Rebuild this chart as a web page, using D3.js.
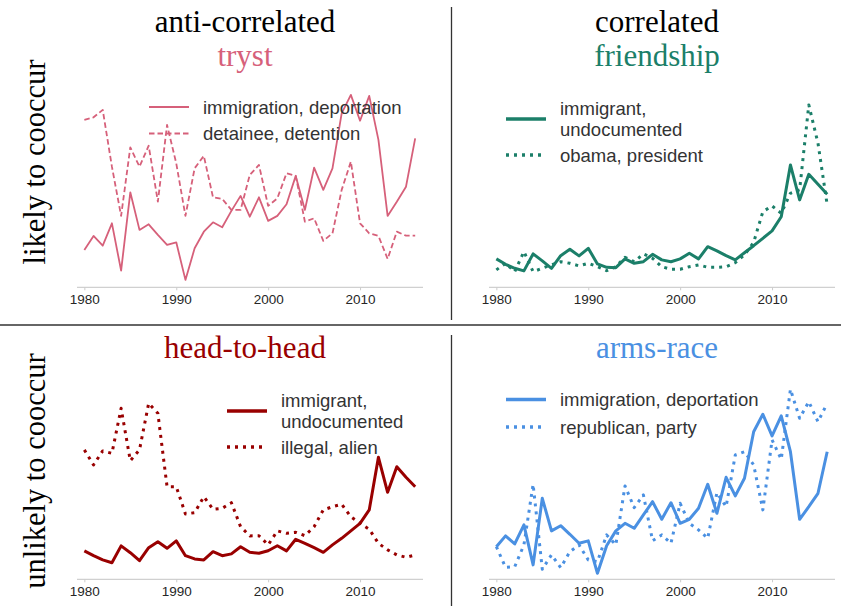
<!DOCTYPE html>
<html>
<head>
<meta charset="utf-8">
<script src="https://cdn.jsdelivr.net/npm/d3@7"></script>
<style>
  html, body { margin: 0; padding: 0; background: #fff; }
  svg { display: block; }
</style>
</head>
<body>
<svg id="chart" width="841" height="608"></svg>
<script>
// ---------------- DATA ----------------
const years = [1980,1981,1982,1983,1984,1985,1986,1987,1988,1989,1990,1991,1992,1993,1994,1995,1996,1997,1998,1999,
               2000,2001,2002,2003,2004,2005,2006,2007,2008,2009,2010,2011,2012,2013,2014,2015,2016];
const xTicks = [1980, 1990, 2000, 2010];

const rowLabels = ["likely to cooccur", "unlikely to cooccur"];
const colLabels = ["anti-correlated", "correlated"];
const panelTitles = ["tryst", "friendship", "head-to-head", "arms-race"];

// tryst
const trystImmigrationDeportation = [18.7,25.7,20.8,32,8.3,47.5,28.7,31.5,26.2,21.2,22.5,3.7,19.5,27.8,32.5,30,38.2,45.7,35.3,45,
  33.2,35.7,41.5,55.7,38.7,59.8,48.7,59.5,87,96.2,83.3,95.7,73.7,35.7,42.8,50.3,74.5];
const trystDetaineeDetention = [83.7,85,88.7,60.3,35.7,70,60.3,70.8,42.8,81.2,62,35.7,59.5,65.7,45,44.2,38.7,38.7,56.2,61.2,
  40.7,44.5,57,55.7,32.8,34.5,23.2,27,48.7,62.8,32,27,25.7,14.2,27.8,25.8,25.8];
// friendship
const friendImmigrantUndocumented = [14.2,11.5,9.5,8.2,16.7,13.2,9.5,15.8,19,15.7,19.5,11.7,10,9.8,14.2,12,12.8,16.5,13.7,12.8,
  14.2,17,14.2,20.3,18.2,15.8,13.7,17.3,20.8,24.5,28.2,35.3,61.2,43.7,56.5,51.5,46.5];
const friendObamaPresident = [8.7,12,7.8,17.8,7.8,9.5,11.2,12.8,12,10.7,12,10.3,8.3,10.3,15,12.8,16.7,14.5,10.3,9,
  9,10.3,11.2,10,10,10.3,12.3,16.2,22.5,37.8,40.7,37,47,48.7,91.2,72,41.2];
// head-to-head
const h2hImmigrantUndocumented = [14.2,11.8,9.7,8.3,16.7,13.3,9.3,15.8,18.8,15.5,19.2,11.8,10.2,9.7,13.8,11.8,12.7,16.3,13.5,13,
  14.3,16.8,14.2,20,18,15.8,13.5,17.2,20.5,24.2,28,34.7,61,43.5,56.3,51,46.3];
const h2hIllegalAlien = [64.7,57.2,64.2,63,85.5,59.3,64.7,88,83,46.3,46.3,32.7,33.3,41.3,35,35.5,38.3,26.3,21.7,21.8,
  17.2,24.2,23,23.5,21.8,26.3,34.7,36.3,37.5,31.3,28,25,18,14.7,12.2,11,12.2];
// arms-race
const armsImmigrationDeportation = [16.3,21.7,17.7,27.2,7.2,40.5,24.2,26.8,22.5,18,19.2,3,16.8,24.2,28,25.5,32.2,38.8,30,38.3,
  28,30,35.5,47.5,33,51,41.7,50.5,73.8,82.5,71.7,81.7,63.8,30,36.3,43,63.8];
const armsRepublicanParty = [16.3,6,6.3,17.2,47.5,5,12.2,5.8,13.8,17.2,9.7,8.8,22.2,17.2,46.7,35.8,42.2,19.3,22.2,18,
  38,28,24.7,20.5,43.3,36.3,62.2,63.8,57.2,34.7,69.7,60,95,80.5,88.8,78.8,88];

const panelColors = ["#d6607a", "#1b7f69", "#990000", "#4a90e2"];

// ---------------- LAYOUT ----------------
const svg = d3.select("#chart");
const W = 841, H = 608;

const panels = [
  { title: panelTitles[0], color: panelColors[0], col: 0, row: 0, lw: 1.8, dash: "5.5,3",
    series: [ {label: ["immigration, deportation"], values: trystImmigrationDeportation, style: "solid"},
              {label: ["detainee, detention"], values: trystDetaineeDetention, style: "dash"} ],
    legend: {x: 149, y: 107, textX: 203, rowGap: 26.5} },
  { title: panelTitles[1], color: panelColors[1], col: 1, row: 0, lw: 3, dash: "3,5",
    series: [ {label: ["immigrant,", "undocumented"], values: friendImmigrantUndocumented, style: "solid"},
              {label: ["obama, president"], values: friendObamaPresident, style: "dash"} ],
    legend: {x: 506, y: 119, textX: 560, rowGap: 36} },
  { title: panelTitles[2], color: panelColors[2], col: 0, row: 1, lw: 3, dash: "3,5",
    series: [ {label: ["immigrant,", "undocumented"], values: h2hImmigrantUndocumented, style: "solid"},
              {label: ["illegal, alien"], values: h2hIllegalAlien, style: "dash"} ],
    legend: {x: 227, y: 411, textX: 281, rowGap: 36} },
  { title: panelTitles[3], color: panelColors[3], col: 1, row: 1, lw: 3, dash: "3,5",
    series: [ {label: ["immigration, deportation"], values: armsImmigrationDeportation, style: "solid"},
              {label: ["republican, party"], values: armsRepublicanParty, style: "dash"} ],
    legend: {x: 506, y: 399.5, textX: 560, rowGap: 27.5} },
];

const colX = [[77, 423], [489, 835]];
const colCenter = [245, 657];
const rowAxisY = [287.3, 579.3];
const xDomain = [1979.2, 2016.85];

const serif = "'Liberation Serif', 'Times New Roman', 'DejaVu Serif', serif";
const sans = "'Liberation Sans', Arial, Helvetica, sans-serif";

// dividers
svg.append("line").attr("x1", 0).attr("x2", W).attr("y1", 325).attr("y2", 325)
  .attr("stroke", "#333").attr("stroke-width", 1.6);
svg.append("line").attr("x1", 451.5).attr("x2", 451.5).attr("y1", 7).attr("y2", 320)
  .attr("stroke", "#333").attr("stroke-width", 1.3);
svg.append("line").attr("x1", 451.5).attr("x2", 451.5).attr("y1", 335).attr("y2", 606)
  .attr("stroke", "#333").attr("stroke-width", 1.3);

// column headers
colLabels.forEach((t, i) => {
  svg.append("text").attr("x", colCenter[i]).attr("y", 32)
    .attr("text-anchor", "middle").attr("font-family", serif).attr("font-size", 31)
    .attr("fill", "#000").text(t);
});

// row labels
rowLabels.forEach((t, i) => {
  const cy = i === 0 ? 162 : 471;
  svg.append("text").attr("transform", `translate(45,${cy}) rotate(-90)`)
    .attr("text-anchor", "middle").attr("font-family", serif).attr("font-size", 30.5)
    .attr("fill", "#000").text(t);
});

panels.forEach(p => {
  const x = d3.scaleLinear().domain(xDomain).range(colX[p.col]);
  const axisY = rowAxisY[p.row];
  const y = d3.scaleLinear().domain([0, 100]).range([axisY, axisY - 200]);
  const g = svg.append("g");

  // title
  const titleY = p.row === 0 ? 66 : 358;
  g.append("text").attr("x", colCenter[p.col]).attr("y", titleY)
    .attr("text-anchor", "middle").attr("font-family", serif).attr("font-size", 31)
    .attr("fill", p.color).text(p.title);

  // x axis
  const axis = d3.axisBottom(x).tickValues(xTicks).tickFormat(d3.format("d")).tickSize(3).tickPadding(4);
  const ag = g.append("g").attr("transform", `translate(0,${axisY})`).call(axis)
    .attr("font-size", 13.5).attr("font-family", sans);
  ag.select(".domain").attr("stroke", "#d0d0d0").attr("stroke-width", 1.2)
    .attr("d", `M${colX[p.col][0]},0H${colX[p.col][1]}`);
  ag.selectAll(".tick line").attr("stroke", "#ccc");
  ag.selectAll(".tick text").style("font-size", "13.5px").style("font-family", sans).attr("fill", "#262626");

  // lines
  const line = d3.line().x((d, i) => x(years[i])).y(d => y(d));
  p.series.forEach(s => {
    g.append("path").datum(s.values)
      .attr("d", line).attr("fill", "none").attr("stroke", p.color)
      .attr("stroke-width", p.lw).attr("stroke-linejoin", "round")
      .attr("stroke-dasharray", s.style === "dash" ? p.dash : null);
  });

  // legend
  const L = p.legend;
  p.series.forEach((s, k) => {
    const sy = k === 0 ? L.y : L.y + L.rowGap;
    g.append("line").attr("x1", L.x).attr("x2", L.x + 40).attr("y1", sy).attr("y2", sy)
      .attr("stroke", p.color).attr("stroke-width", p.lw + (p.lw > 2 ? 0.5 : 0))
      .attr("stroke-dasharray", s.style === "dash" ? p.dash : null);
    const n = s.label.length;
    const lineH = 21;
    const firstBaseline = sy + 6.5 - (n - 1) * lineH / 2;
    s.label.forEach((t, j) => {
      g.append("text").attr("x", L.textX).attr("y", firstBaseline + j * lineH)
        .attr("font-family", sans).attr("font-size", 18.5).attr("fill", "#333").text(t);
    });
  });
});
</script>
</body>
</html>
